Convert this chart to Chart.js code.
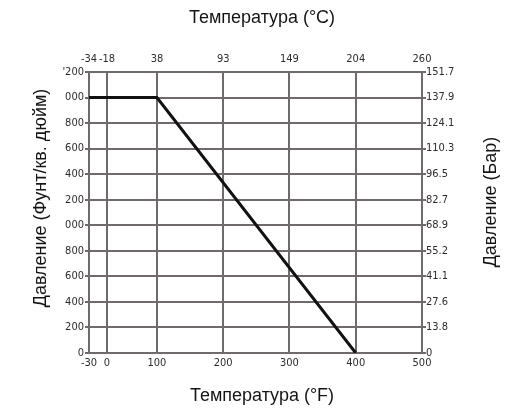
<!DOCTYPE html>
<html>
<head>
<meta charset="utf-8">
<script src="https://cdn.jsdelivr.net/npm/chart.js@4"></script>
<style>
  html, body { margin: 0; padding: 0; background: #fff; }
  #wrap { width: 509px; height: 408px; position: relative; }
</style>
</head>
<body>
<div id="wrap"><canvas id="c" width="509" height="408"></canvas></div>
<script>
// ---- data ----
const tempF = [-30, 0, 100, 200, 300, 400, 500];            // bottom axis ticks (°F)
const tempFLabels = ['-30', '0', '100', '200', '300', '400', '500'];
const tempCLabels = ['-34', '-18', '38', '93', '149', '204', '260']; // top axis (°C)
const psiTicks = [0, 200, 400, 600, 800, 1000, 1200, 1400, 1600, 1800, 2000, 2200];
const psiLabels = ['0', '200', '400', '600', '800', '000', '200', '400', '600', '800', '000', "'200"];
const barLabels = ['0', '13.8', '27.6', '41.1', '55.2', '68.9', '82.7', '96.5', '110.3', '124.1', '137.9', '151.7'];
const ratingF = [-30, 100, 400];     // temperature, °F
const ratingPsi = [2000, 2000, 0];   // pressure, psi

const titleTop = 'Температура (°C)';
const titleBottom = 'Температура (°F)';
const titleLeft = 'Давление (Фунт/кв. дюйм)';
const titleRight = 'Давление (Бар)';

// ---- piecewise-linear scale (the reference axis is not evenly spaced below 100 °F) ----
class PiecewiseScale extends Chart.LinearScale {
  _warp(v) {
    const vs = this.options.warpValues, fs = this.options.warpFractions;
    let i = 1;
    while (i < vs.length - 1 && v > vs[i]) i++;
    return fs[i - 1] + (v - vs[i - 1]) * (fs[i] - fs[i - 1]) / (vs[i] - vs[i - 1]);
  }
  _unwarp(d) {
    const vs = this.options.warpValues, fs = this.options.warpFractions;
    let i = 1;
    while (i < fs.length - 1 && d > fs[i]) i++;
    return vs[i - 1] + (d - fs[i - 1]) * (vs[i] - vs[i - 1]) / (fs[i] - fs[i - 1]);
  }
  getPixelForValue(value) {
    if (value === null || isNaN(value)) return NaN;
    return this.getPixelForDecimal(this._warp(value));
  }
  getValueForPixel(pixel) {
    return this._unwarp(this.getDecimalForPixel(pixel));
  }
}
PiecewiseScale.id = 'piecewise';
PiecewiseScale.defaults = {};
Chart.register(PiecewiseScale);

const GRID = '#706a6a';
const TICK_FONT = { family: '"DejaVu Sans Condensed", "Liberation Sans Narrow", sans-serif', size: 11 };
const TICK_COLOR = '#2c2c2c';

const titlesPlugin = {
  id: 'titles',
  afterDraw(chart) {
    const ctx = chart.ctx;
    ctx.save();
    ctx.fillStyle = '#151515';
    ctx.font = '18px "Liberation Sans", Arial, sans-serif';
    ctx.textAlign = 'center';
    ctx.textBaseline = 'middle';
    ctx.fillText(titleTop, 262, 18);
    ctx.fillText(titleBottom, 262, 396);
    ctx.save();
    ctx.translate(41, 198);
    ctx.rotate(-Math.PI / 2);
    ctx.fillText(titleLeft, 0, 0);
    ctx.restore();
    ctx.save();
    ctx.translate(491, 202);
    ctx.rotate(-Math.PI / 2);
    ctx.fillText(titleRight, 0, 0);
    ctx.restore();
    ctx.restore();
  }
};

const warp = { warpValues: [-30, 0, 100, 500], warpFractions: [0, 0.054, 0.204, 1] };

new Chart(document.getElementById('c'), {
  type: 'line',
  data: {
    datasets: [{
      data: ratingF.map((f, i) => ({ x: f, y: ratingPsi[i] })),
      borderColor: '#111111',
      borderWidth: 3,
      pointRadius: 0,
      tension: 0,
      fill: false
    }]
  },
  options: {
    responsive: false,
    animation: false,
    devicePixelRatio: 1,
    layout: { padding: 0 },
    plugins: { legend: { display: false }, tooltip: { enabled: false } },
    scales: {
      x: {
        type: 'piecewise', position: 'bottom', min: -30, max: 500, ...warp,
        afterBuildTicks: s => { s.ticks = tempF.map(v => ({ value: v })); },
        afterFit: s => { s.height = 55; },
        ticks: { autoSkip: false, maxRotation: 0, padding: 4, font: TICK_FONT, color: TICK_COLOR,
                 callback: (v, i) => tempFLabels[i] },
        grid: { color: GRID, lineWidth: 2, drawTicks: false },
        border: { color: GRID, width: 2 }
      },
      x2: {
        type: 'piecewise', position: 'top', min: -30, max: 500, ...warp,
        afterBuildTicks: s => { s.ticks = tempF.map(v => ({ value: v })); },
        afterFit: s => { s.height = 72; },
        ticks: { autoSkip: false, maxRotation: 0, padding: 6, font: TICK_FONT, color: TICK_COLOR,
                 callback: (v, i) => tempCLabels[i] },
        grid: { display: false, drawTicks: false },
        border: { color: GRID, width: 2 }
      },
      y: {
        type: 'linear', position: 'left', min: 0, max: 2200,
        afterBuildTicks: s => { s.ticks = psiTicks.map(v => ({ value: v })); },
        afterFit: s => { s.width = 89; },
        ticks: { autoSkip: false, padding: 1, font: TICK_FONT, color: TICK_COLOR,
                 callback: (v, i) => psiLabels[i] },
        grid: { color: GRID, lineWidth: 2, drawTicks: true, tickLength: 4 },
        border: { color: GRID, width: 2 }
      },
      y2: {
        type: 'linear', position: 'right', min: 0, max: 2200,
        afterBuildTicks: s => { s.ticks = psiTicks.map(v => ({ value: v })); },
        afterFit: s => { s.width = 87; },
        ticks: { autoSkip: false, padding: 0, font: TICK_FONT, color: TICK_COLOR,
                 callback: (v, i) => barLabels[i] },
        grid: { drawOnChartArea: false, color: GRID, lineWidth: 2, drawTicks: true, tickLength: 4 },
        border: { color: GRID, width: 2 }
      }
    }
  },
  plugins: [titlesPlugin]
});
</script>
</body>
</html>
